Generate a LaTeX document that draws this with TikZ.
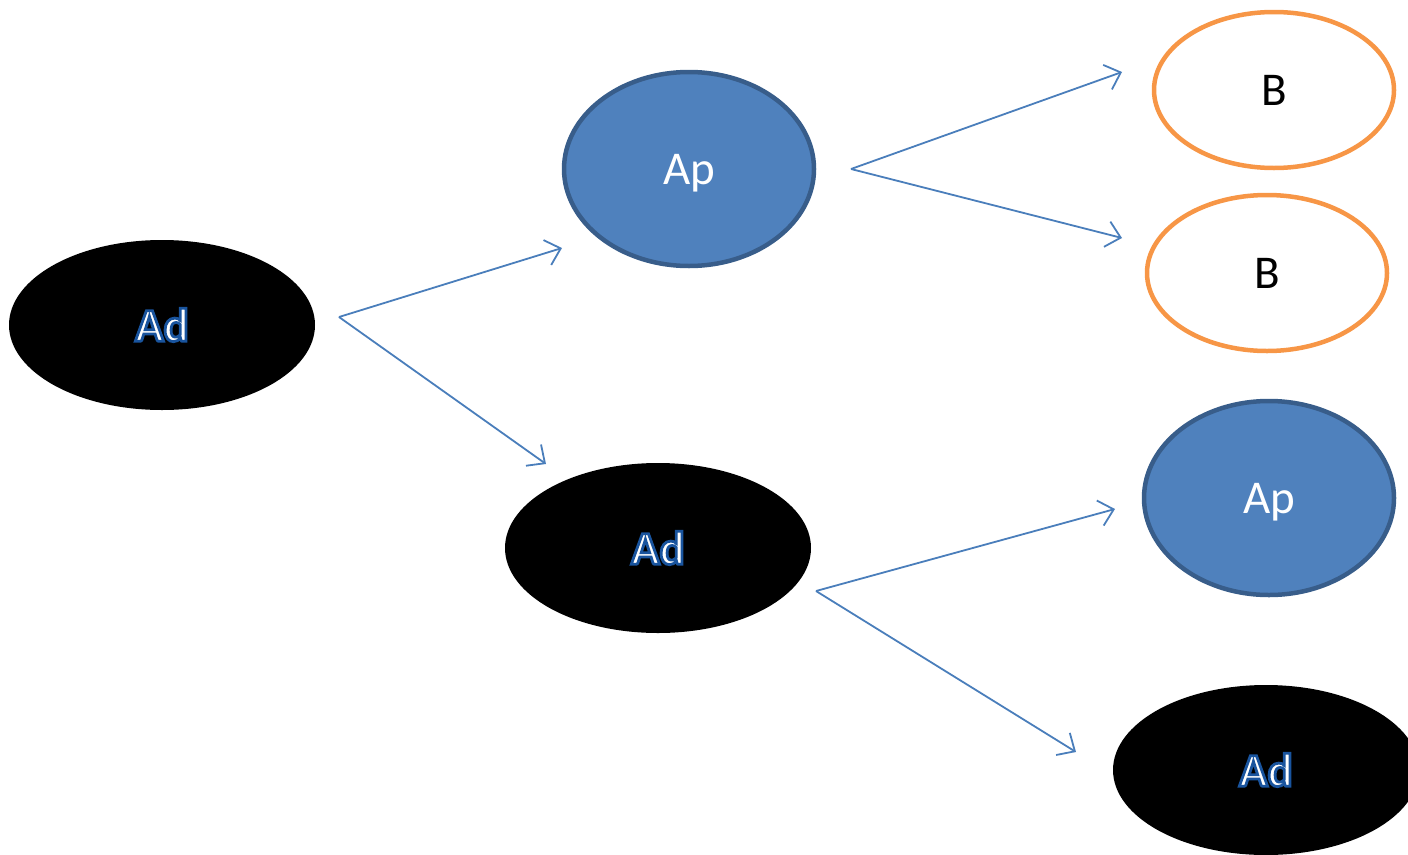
\documentclass[tikz,border=0pt]{standalone}
\usepackage{fontspec}
\setmainfont{Carlito}
\definecolor{apblue}{RGB}{79, 129, 189}
\definecolor{apedge}{RGB}{56, 93, 138}
\definecolor{borange}{RGB}{247, 150, 70}
\definecolor{arrowblue}{RGB}{74, 126, 187}
\usetikzlibrary{shapes.geometric, arrows.meta, positioning}
\tikzset{
  adnode/.style={ellipse, fill=black, minimum width=306pt, minimum height=170pt, inner sep=0pt, text=white},
  apnode/.style={ellipse, fill=apblue, draw=apedge, line width=4.5pt, minimum width=250pt, minimum height=194pt, inner sep=0pt, text=white, text depth=0pt},
  bnode/.style={ellipse, fill=white, draw=borange, line width=4.5pt, minimum width=240pt, minimum height=156pt, inner sep=0pt, text=black},
  link/.style={arrowblue, line width=1.8pt, -{Straight Barb[length=14pt, width=26pt, line width=1.8pt]}}
}
% white letters with a blue rim (text render mode 2)
\newcommand{\adlabel}{\bfseries\special{pdf:literal direct 2 Tr 2.8 w 0.10 0.33 0.62 RG}Ad\special{pdf:literal direct 0 Tr}}
\begin{document}
\begin{tikzpicture}[x=1pt, y=-1pt, font=\fontsize{47}{50}\selectfont]
  \clip (0, 0) rectangle (1408, 854);
  \useasboundingbox (0, 0) rectangle (1408, 854);

  % LEFT: root
  \node[adnode] (ad1) at (162, 325) {\adlabel};

  % MIDDLE
  \node[apnode] (ap1) at (689, 169) {Ap};
  \node[adnode] (ad2) at (658, 548) {\adlabel};

  % RIGHT
  \node[bnode] (b1) at (1274, 90) {B};
  \node[bnode] (b2) at (1267, 273) {B};
  \node[apnode] (ap2) at (1269, 498) {Ap};
  \node[adnode] (ad3) at (1266, 770) {\adlabel};

  % Arrow ends
  \coordinate (ad1out) at (339, 317);
  \coordinate (ap1in) at (562, 248);
  \coordinate (ad2in) at (546, 464);
  \coordinate (ap1out) at (851, 169);
  \coordinate (b1in) at (1122, 72);
  \coordinate (b2in) at (1122, 238);
  \coordinate (ad2out) at (816, 591);
  \coordinate (ap2in) at (1115, 509);
  \coordinate (ad3in) at (1076, 752);

  \draw[link] (ad1out) -- (ap1in);
  \draw[link] (ad1out) -- (ad2in);
  \draw[link] (ap1out) -- (b1in);
  \draw[link] (ap1out) -- (b2in);
  \draw[link] (ad2out) -- (ap2in);
  \draw[link] (ad2out) -- (ad3in);
\end{tikzpicture}
\end{document}
